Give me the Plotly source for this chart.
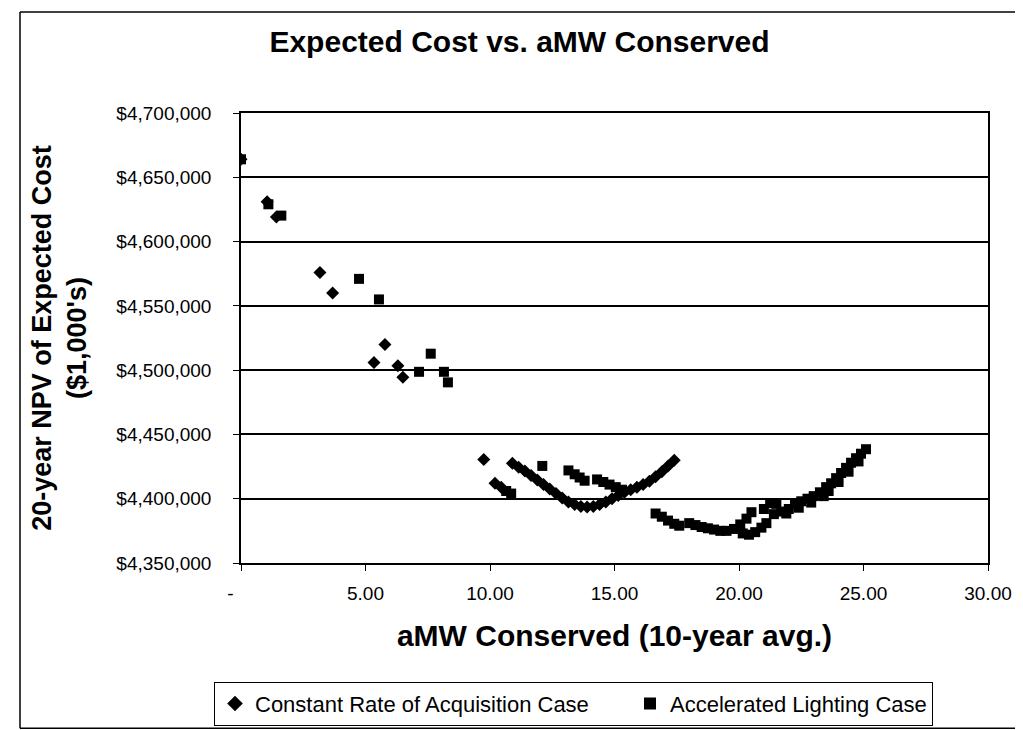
import plotly.graph_objects as go

# ---- data ----
const_x = [0.0, 1.05, 1.42, 3.17, 3.68, 5.34, 5.78, 6.30, 6.50, 9.75, 10.20, 10.45,
           10.90, 11.15, 11.40, 11.65, 11.90, 12.15, 12.40, 12.65, 12.90, 13.15, 13.40,
           13.65, 13.90, 14.15, 14.40, 14.65, 14.90, 15.15, 15.40, 15.65, 15.90, 16.15,
           16.40, 16.65, 16.90, 17.15, 17.40]
const_y = [4664000, 4631000, 4619200, 4576000, 4560000, 4506000, 4520000, 4503500, 4494500,
           4430500, 4412000, 4409000,
           4427500, 4424500, 4421500, 4418000, 4414500, 4411000, 4407500, 4404000, 4400500,
           4397500, 4395500, 4394000, 4393500, 4394000, 4395500, 4397500, 4400000, 4402500,
           4405000, 4407000, 4409000, 4411000, 4413500, 4417000, 4421000, 4425500, 4430000]

accel_x = [0.0, 1.10, 1.62, 4.74, 5.54, 7.15, 7.62, 8.15, 8.31, 10.65, 10.85, 12.10,
           13.15, 13.40, 13.60, 13.80, 14.30, 14.55, 14.80, 15.05, 15.30,
           16.65, 16.90, 17.15, 17.40, 17.60, 18.00, 18.25, 18.50, 18.75, 19.00, 19.25,
           19.50, 19.80, 20.05, 20.30, 20.50, 20.15, 20.40, 20.65, 20.90, 21.10, 21.00,
           21.25, 21.50, 21.40, 21.70, 21.90, 22.00, 22.25, 22.50, 22.75, 23.00, 23.25,
           23.50, 23.70, 23.90, 24.10, 24.30, 24.50, 24.70, 24.90, 25.10, 22.40, 22.90,
           23.40, 23.60, 24.00, 24.40, 24.80]
accel_y = [4664000, 4629000, 4620200, 4571000, 4555000, 4498700, 4512800, 4498700, 4490500,
           4406000, 4404000, 4425500,
           4422000, 4419000, 4416500, 4414000, 4415000, 4413000, 4411000, 4409000, 4407000,
           4388500, 4386000, 4383000, 4380500, 4379000, 4381000, 4379500, 4378000, 4377000,
           4376000, 4375000, 4375000, 4376500, 4380000, 4384500, 4389500, 4373000, 4372000,
           4374000, 4377500, 4381000, 4392000, 4396500, 4396000, 4388000, 4390000, 4388500,
           4392000, 4396000, 4398000, 4400000, 4402000, 4405000, 4409000, 4412000, 4416000,
           4420000, 4424000, 4428000, 4431500, 4435000, 4438500, 4393000, 4397000, 4402000,
           4406000, 4413000, 4421000, 4429000]

x_tickvals = [0, 5, 10, 15, 20, 25, 30]
x_ticktext = ["-\u00a0\u00a0\u00a0\u00a0", "5.00", "10.00", "15.00", "20.00", "25.00", "30.00"]
y_tickvals = [4350000, 4400000, 4450000, 4500000, 4550000, 4600000, 4650000, 4700000]
y_ticktext = ["$4,350,000", "$4,400,000", "$4,450,000", "$4,500,000",
              "$4,550,000", "$4,600,000", "$4,650,000", "$4,700,000"]

FONT = "Arial, Liberation Sans, sans-serif"

fig = go.Figure()
fig.add_trace(go.Scatter(
    x=const_x, y=const_y, mode="markers",
    name="Constant Rate of Acquisition Case",
    marker=dict(symbol="diamond", size=10, color="black"),
    legendwidth=370,
))
fig.add_trace(go.Scatter(
    x=accel_x, y=accel_y, mode="markers",
    name="Accelerated Lighting Case",
    marker=dict(symbol="square", size=10, color="black"),
))

# plot area: left 233, right 980, top 105, bottom 560
W, H = 1023, 730
L, R, T, B = 233, 980, 105, 560


def px(xp):
    return (xp - L) / (R - L)


def py(yp):
    return (B - yp) / (B - T)


fig.update_layout(
    width=W, height=H,
    margin=dict(l=L, r=W - R, t=T, b=H - B),
    paper_bgcolor="white", plot_bgcolor="white",
    font=dict(family=FONT, color="black"),
    title=dict(text="Expected Cost vs. aMW Conserved", x=0.5, xref="container",
               xanchor="center", y=1 - 33 / H, yref="container", yanchor="middle",
               font=dict(size=30, weight="bold", family=FONT, color="black")),
    showlegend=True,
    legend=dict(orientation="h", x=px(206), xanchor="left", y=py(680), yanchor="top",
                bordercolor="black", borderwidth=1, bgcolor="white",
                font=dict(size=22, family=FONT, color="black"),
                itemsizing="constant", tracegroupgap=0),
    shapes=[
        dict(type="line", xref="paper", yref="paper", x0=px(12), x1=px(12),
             y0=py(3), y1=py(727), line=dict(color="black", width=1.5)),
        dict(type="line", xref="paper", yref="paper", x0=px(12), x1=px(1030),
             y0=py(3), y1=py(3), line=dict(color="black", width=1.5)),
        dict(type="line", xref="paper", yref="paper", x0=px(12), x1=px(1030),
             y0=py(727), y1=py(727), line=dict(color="black", width=1.5)),
    ],
)

fig.update_xaxes(
    range=[0, 30], tickvals=x_tickvals, ticktext=x_ticktext,
    showgrid=False, zeroline=False,
    showline=True, linecolor="black", linewidth=1.5, mirror=True,
    ticks="outside", ticklen=6, tickcolor="black", tickwidth=1.2,
    ticklabelstandoff=6,
    tickfont=dict(size=19, family=FONT, color="black"),
    title=dict(text="aMW Conserved (10-year avg.)", standoff=22,
               font=dict(size=30, weight="bold", family=FONT, color="black")),
)
fig.update_yaxes(
    range=[4350000, 4700000], tickvals=y_tickvals, ticktext=y_ticktext,
    showgrid=True, gridcolor="black", gridwidth=1.5, zeroline=False,
    showline=True, linecolor="black", linewidth=1.5, mirror=True,
    ticks="outside", ticklen=6, tickcolor="black", tickwidth=1.2,
    ticklabelstandoff=18,
    tickfont=dict(size=19, family=FONT, color="black"),
    title=dict(text="20-year NPV of Expected Cost<br>($1,000's)", standoff=22,
               font=dict(size=27, weight="bold", family=FONT, color="black")),
)

fig.write_html("out.html")
